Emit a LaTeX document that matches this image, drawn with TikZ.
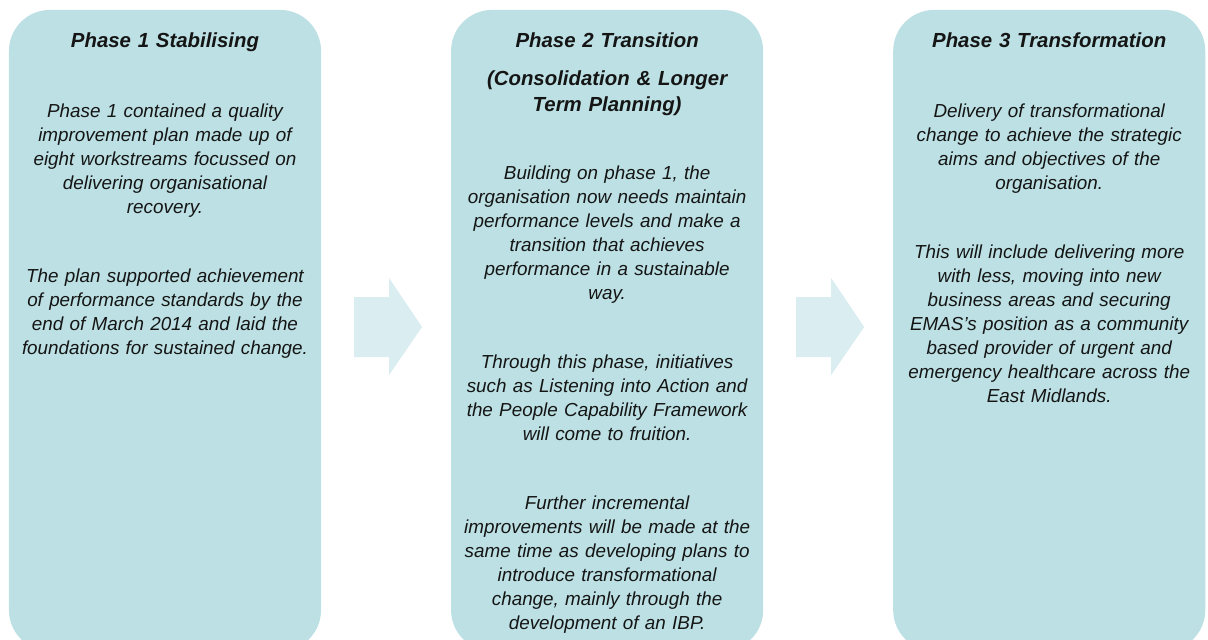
\documentclass[tikz,border=0pt]{standalone}
\usepackage{fontspec}
\setmainfont{Liberation Sans}
\usepackage{xcolor}
\usetikzlibrary{positioning, calc}
\definecolor{PhaseFill}{HTML}{BCE0E3}
\definecolor{PhaseArrow}{HTML}{DAEEF1}
\definecolor{PhaseInk}{HTML}{151515}

\begin{document}
\begin{tikzpicture}[x=0.025cm, y=-0.025cm,
  phasebox/.style={fill=PhaseFill, rounded corners=1.025cm, minimum width=7.8cm, minimum height=16.025cm, inner sep=0pt, outer sep=0pt},
  ptitle/.style={text width=7.8cm, align=center, inner sep=0pt, text=PhaseInk, font=\fontsize{14.5}{18.1}\selectfont\bfseries\itshape, execute at begin node=\strut},
  pbody/.style={text width=7.8cm, align=center, inner sep=0pt, text=PhaseInk, font=\fontsize{13.4}{17.07}\selectfont\itshape, execute at begin node=\strut},
  parrow/.style={fill=PhaseArrow}
]
\useasboundingbox (0,0) rectangle (1208,639);
\fill[white] (0,0) rectangle (1208,639);
\clip (0,0) rectangle (1208,639);

% the three phase panels
\node[phasebox] (stab) at (165,330.5) {};
\node[phasebox, right=3.25cm of stab] (trans) {};
\node[phasebox, right=3.25cm of trans] (transf) {};

% arrows between the panels
\coordinate (arr1) at ($(stab.east)+(33,-3.5)$);
\coordinate (arr2) at ($(trans.east)+(33,-3.5)$);
\fill[parrow] (arr1) ++(0,-30) -- ++(35,0) -- ++(0,-19) -- ++(33,49) -- ++(-33,48) -- ++(0,-18) -- ++(-35,0) -- cycle;
\fill[parrow] (arr2) ++(0,-30) -- ++(35,0) -- ++(0,-19) -- ++(33,49) -- ++(-33,48) -- ++(0,-18) -- ++(-35,0) -- cycle;

% phase 1
\node[ptitle, below=0.48cm of stab.north] (stabtitle) {Phase 1 Stabilising};
\node[pbody, below=2.255cm of stab.north] (stabtext) {Phase 1 contained a quality\\improvement plan made up of\\eight workstreams focussed on\\delivering organisational\\recovery.\\[32pt]
The plan supported achievement\\of performance standards by the\\end of March 2014 and laid the\\foundations for sustained change.};

% phase 2
\node[ptitle, below=0.48cm of trans.north] (transtitle) {Phase 2 Transition\\[9.4pt](Consolidation \& Longer\\Term Planning)};
\node[pbody, below=3.805cm of trans.north] (transtext) {Building on phase 1, the\\organisation now needs maintain\\performance levels and make a\\transition that achieves\\performance in a sustainable\\way.\\[32pt]
Through this phase, initiatives\\such as Listening into Action and\\the People Capability Framework\\will come to fruition.\\[32pt]
Further incremental\\improvements will be made at the\\same time as developing plans to\\introduce transformational\\change, mainly through the\\development of an IBP.};

% phase 3
\node[ptitle, below=0.48cm of transf.north] (transftitle) {Phase 3 Transformation};
\node[pbody, below=2.255cm of transf.north] (transftext) {Delivery of transformational\\change to achieve the strategic\\aims and objectives of the\\organisation.\\[32pt]
This will include delivering more\\with less, moving into new\\business areas and securing\\EMAS’s position as a community\\based provider of urgent and\\emergency healthcare across the\\East Midlands.};
\end{tikzpicture}
\end{document}
